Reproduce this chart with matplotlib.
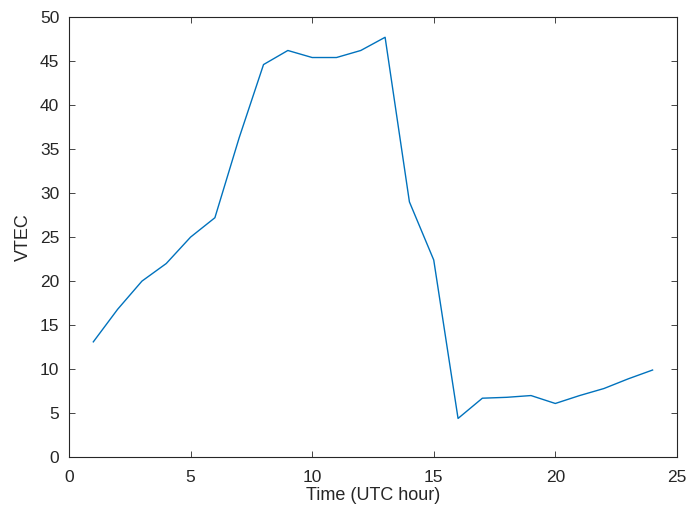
import numpy as np
import matplotlib.pyplot as plt

plt.rcParams['font.family'] = ['Liberation Sans', 'DejaVu Sans']

# UTC hour and VTEC values
hours = np.arange(1, 25)
vtec = [13.1, 16.8, 20.0, 22.0, 25.0, 27.2, 36.3, 44.6, 46.2, 45.4, 45.4, 46.2,
        47.7, 29.0, 22.4, 4.4, 6.7, 6.8, 7.0, 6.1, 7.0, 7.8, 8.9, 9.9]

fig = plt.figure(figsize=(6.9, 5.16), dpi=100)
ax = fig.add_axes([0.1, 0.114, 0.881, 0.853])

ax.plot(hours, vtec, color='#0072BD', linewidth=1.0)

ax.set_xlim(0, 25)
ax.set_ylim(0, 50)
ax.set_xticks(np.arange(0, 26, 5))
ax.set_yticks(np.arange(0, 51, 5))
ax.tick_params(direction='in', top=True, right=True, labelsize=12.5,
               colors='#262626', length=4, width=0.6)
ax.tick_params(axis='x', pad=9)
ax.tick_params(axis='y', pad=7)
for s in ax.spines.values():
    s.set_color('#262626')
    s.set_linewidth(0.8)

ax.set_xlabel('Time (UTC hour)', fontsize=13, color='#262626', labelpad=2)
ax.set_ylabel('VTEC', fontsize=13, color='#262626', labelpad=6)

fig.savefig('out.png', dpi=100)
